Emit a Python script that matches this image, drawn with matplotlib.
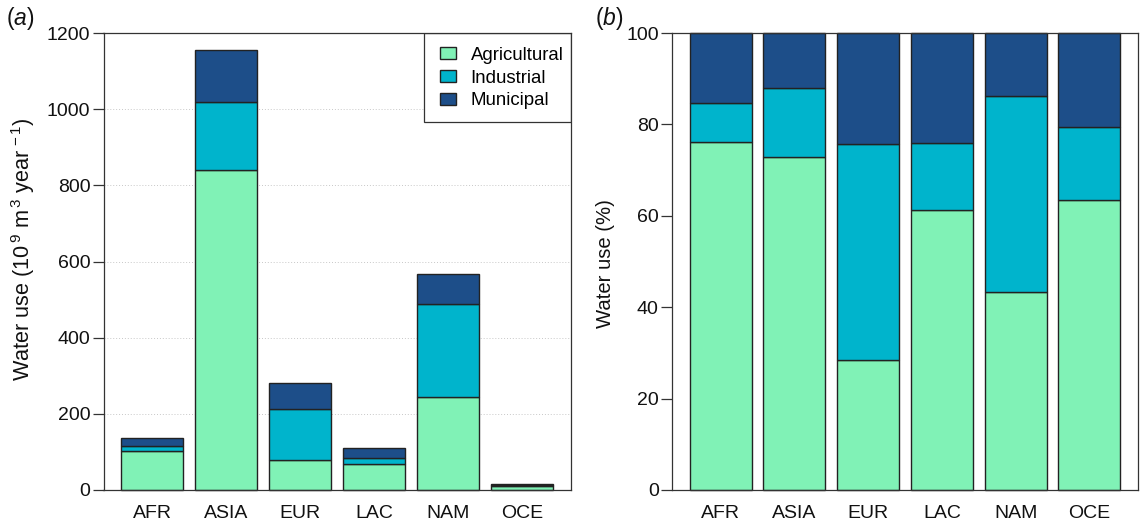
import matplotlib
matplotlib.use("Agg")
import matplotlib.pyplot as plt
from matplotlib.patches import Rectangle
import numpy as np

plt.rcParams['font.family'] = ['Liberation Sans', 'DejaVu Sans']
plt.rcParams['mathtext.fontset'] = 'custom'
plt.rcParams['mathtext.rm'] = 'Liberation Sans'
plt.rcParams['mathtext.it'] = 'Liberation Sans:italic'
plt.rcParams['mathtext.default'] = 'regular'

regions = ["AFR", "ASIA", "EUR", "LAC", "NAM", "OCE"]
sectors = ["Agricultural", "Industrial", "Municipal"]
colors = ["#80F2B6", "#00B4CC", "#1D4E89"]

abs_agri = [102, 840, 79, 67, 245, 10]
abs_ind = [14, 178, 133, 16, 244, 3]
abs_mun = [20, 137, 69, 27, 77, 3]

pct_agri = [76.2, 72.8, 28.4, 61.3, 43.3, 63.4]
pct_ind = [8.4, 15.2, 47.4, 14.7, 43.0, 16.1]
pct_mun = [15.4, 12.0, 24.2, 24.0, 13.7, 20.5]

W, H = 1148, 528
fig = plt.figure(figsize=(W / 100, H / 100), dpi=100)
EDGE = "#222222"
FS = 14.0


def make_axes(l, r, t=33, b=490):
    return fig.add_axes([l / W, 1 - b / H, (r - l) / W, (b - t) / H])


def stacked(ax, series):
    x = np.arange(len(regions))
    bottom = np.zeros(len(regions))
    for vals, c, name in zip(series, colors, sectors):
        ax.bar(x, vals, 0.84, bottom=bottom, color=c, edgecolor=EDGE,
               linewidth=1.0, label=name, zorder=3, clip_on=False)
        bottom = bottom + np.array(vals)
    ax.set_xticks(x, regions)
    ax.tick_params(axis='x', length=0, labelsize=FS, pad=10.5, colors="#111111")
    ax.tick_params(axis='y', length=8, width=0.9, labelsize=FS, pad=1.5,
                   color="#333333", labelcolor="#111111")
    ax.set_xlim(-0.66, 5.66)
    for s in ax.spines.values():
        s.set_linewidth(0.9)
        s.set_color("#333333")
        s.set_zorder(5)


# Panel a
L1, R1, T, B = 103.5, 571, 33, 490
ax1 = make_axes(L1, R1)
stacked(ax1, [abs_agri, abs_ind, abs_mun])
ax1.set_ylim(0, 1200)
ax1.set_yticks(np.arange(0, 1201, 200))
ax1.grid(axis='y', linestyle=(0, (1, 2)), color="#c8c8c8", linewidth=0.7, zorder=0)
ax1.set_axisbelow(True)
ax1.set_ylabel(r"Water use (10$^{\,9}$ m$^{\,3}$ year$^{\,-1}$)", fontsize=15.6, color="#111111")
ax1.yaxis.set_label_coords((37 - L1) / (R1 - L1), 0.527)

# Legend frame, open on its top and right sides against the axes
ax1.add_patch(Rectangle(((424 - L1) / (R1 - L1), 1 - (122 - T) / (B - T)),
                        (R1 - 424) / (R1 - L1), (122 - T) / (B - T),
                        transform=ax1.transAxes, facecolor="white",
                        edgecolor="#333333", linewidth=0.9, zorder=4))
leg = ax1.legend(loc="center", bbox_to_anchor=((502 - L1) / (R1 - L1), 1 - (78 - T) / (B - T)),
                 borderaxespad=0, frameon=False, fontsize=13.4,
                 handlelength=0.81, handleheight=0.65,
                 handletextpad=0.81, labelspacing=0.32, borderpad=0)
leg.set_zorder(6)
fig.text(6 / W, 1 - 25 / H, "($\\mathit{a}$)", fontsize=16.5, color="#111111")

# Panel b
ax2 = make_axes(672, 1138)
stacked(ax2, [pct_agri, pct_ind, pct_mun])
ax2.set_ylim(0, 100)
ax2.set_yticks(np.arange(0, 101, 20))
ax2.set_ylabel("Water use (%)", fontsize=14.6, color="#111111")
ax2.yaxis.set_label_coords((615 - 672) / (1138 - 672), 0.495)
fig.text(595 / W, 1 - 25 / H, "($\\mathit{b}$)", fontsize=16.5, color="#111111")

fig.savefig("out.png", dpi=100)
